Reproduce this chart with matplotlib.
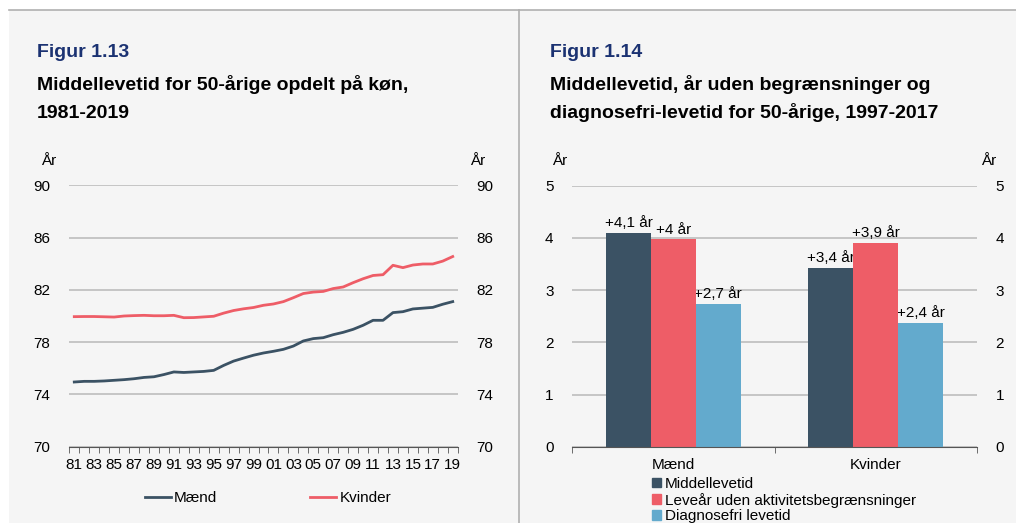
import matplotlib.pyplot as plt
from matplotlib.patches import Rectangle, Patch
from matplotlib.lines import Line2D

plt.rcParams['font.family'] = ['Liberation Sans', 'DejaVu Sans']

# --- data ---
years = list(range(1981, 2020))
maend = [74.95, 75.0, 75.0, 75.03, 75.08, 75.13, 75.2, 75.3, 75.35, 75.52,
         75.72, 75.68, 75.72, 75.76, 75.84, 76.22, 76.55, 76.78, 77.0, 77.17,
         77.3, 77.45, 77.7, 78.09, 78.27, 78.34, 78.57, 78.75, 78.98, 79.29,
         79.67, 79.67, 80.26, 80.33, 80.54, 80.6, 80.66, 80.9, 81.1]
kvinder = [79.95, 79.96, 79.96, 79.94, 79.92, 80.0, 80.03, 80.05, 80.02, 80.02,
           80.05, 79.87, 79.88, 79.93, 79.98, 80.22, 80.42, 80.55, 80.65, 80.82,
           80.92, 81.1, 81.4, 81.72, 81.83, 81.88, 82.1, 82.22, 82.55, 82.85,
           83.1, 83.16, 83.88, 83.7, 83.9, 83.98, 83.98, 84.2, 84.55]

groups = ['Mænd', 'Kvinder']
series = ['Middellevetid', 'Leveår uden aktivitetsbegrænsninger', 'Diagnosefri levetid']
middel = [4.1, 3.43]
uden_begr = [3.97, 3.91]
diagnosefri = [2.73, 2.37]
bar_labels = [['+4,1 år', '+3,4 år'], ['+4 år', '+3,9 år'], ['+2,7 år', '+2,4 år']]

navy = '#3b5264'
red = '#ee5d67'
blue = '#63aacd'
grid_c = '#bdbdbd'
title_blue = '#1b3272'

W, H = 1016, 523


def fx(x):
    return x / W


def fy(y):
    return 1 - y / H


fig = plt.figure(figsize=(W / 100, H / 100), dpi=100, facecolor='white')

# panel background and borders
fig.patches.append(Rectangle((fx(9), 0), 1 - fx(9), fy(10), transform=fig.transFigure,
                             facecolor='#f5f5f5', edgecolor='none', zorder=-10))
fig.lines.append(Line2D([fx(9), 1], [fy(10), fy(10)], transform=fig.transFigure,
                        color='#b0b0b0', lw=1.2, zorder=-5))
fig.lines.append(Line2D([fx(519), fx(519)], [0, fy(10)], transform=fig.transFigure,
                        color='#b0b0b0', lw=1.2, zorder=-5))

# titles
tfs = 14
fig.text(fx(37), fy(57), 'Figur 1.13', color=title_blue, fontsize=tfs, fontweight='bold')
fig.text(fx(37), fy(90), 'Middellevetid for 50-årige opdelt på køn,', fontsize=tfs, fontweight='bold')
fig.text(fx(37), fy(118), '1981-2019', fontsize=tfs, fontweight='bold')
fig.text(fx(550), fy(57), 'Figur 1.14', color=title_blue, fontsize=tfs, fontweight='bold')
fig.text(fx(550), fy(90), 'Middellevetid, år uden begrænsninger og', fontsize=tfs, fontweight='bold')
fig.text(fx(550), fy(118), 'diagnosefri-levetid for 50-årige, 1997-2017', fontsize=tfs, fontweight='bold')

fs = 11

# --- left chart ---
ax1 = fig.add_axes([fx(69.3), fy(446.7), fx(457.7 - 69.3), (446.7 - 185.3) / H])
ax1.set_facecolor('none')
x = list(range(len(years)))
ax1.plot(x, maend, color=navy, lw=2, label='Mænd', zorder=3)
ax1.plot(x, kvinder, color=red, lw=2, label='Kvinder', zorder=3)
ax1.set_xlim(-0.5, len(years) - 0.5)
ax1.set_ylim(70, 90)
ax1.set_yticks([70, 74, 78, 82, 86, 90])
ax1.yaxis.grid(True, color=grid_c, lw=1.2, zorder=0)
ax1.set_axisbelow(True)
ax1.set_xticks(x[::2])
ax1.set_xticklabels([str(y)[2:] for y in years[::2]])
ax1.set_xticks([i - 0.5 for i in range(len(years) + 1)], minor=True)
ax1.tick_params(axis='x', which='major', length=0, pad=8, labelsize=fs)
ax1.tick_params(axis='x', which='minor', length=4, direction='out', color='#555555')
ax1.tick_params(axis='y', left=False, right=False, labelright=True, pad=10, labelsize=fs)
for s in ['top', 'left', 'right']:
    ax1.spines[s].set_visible(False)
ax1.spines['bottom'].set_color('#555555')
ax1.legend(loc='center', bbox_to_anchor=(fx(268), fy(498)), bbox_transform=fig.transFigure,
           ncol=2, frameon=False, fontsize=fs, handlelength=1.7, handletextpad=0.2,
           columnspacing=6.1)
fig.text(fx(49), fy(161), 'År', ha='center', va='center', fontsize=fs)
fig.text(fx(478), fy(161), 'År', ha='center', va='center', fontsize=fs)

# --- right chart ---
ax2 = fig.add_axes([fx(572.3), fy(446.7), fx(976.7 - 572.3), (446.7 - 185.7) / H])
ax2.set_facecolor('none')
w = 0.222
gx = list(range(len(groups)))
for k, (vals, col, lab) in enumerate(zip([middel, uden_begr, diagnosefri], [navy, red, blue], series)):
    pos = [g + (k - 1) * w for g in gx]
    ax2.bar(pos, vals, width=w, color=col, label=lab, zorder=2)
    for p, v, t in zip(pos, vals, bar_labels[k]):
        ax2.annotate(t, (p, v), xytext=(0, 2), textcoords='offset points',
                     ha='center', va='bottom', fontsize=fs, zorder=1.5)
ax2.set_xlim(-0.5, 1.5)
ax2.set_ylim(0, 5)
ax2.set_yticks(range(6))
ax2.yaxis.grid(True, color=grid_c, lw=1.2, zorder=0)
ax2.set_axisbelow(True)
ax2.set_xticks(gx)
ax2.set_xticklabels(groups)
ax2.set_xticks([-0.5, 0.5, 1.5], minor=True)
ax2.tick_params(axis='x', which='major', length=0, pad=8, labelsize=fs)
ax2.tick_params(axis='x', which='minor', length=4, direction='out', color='#555555')
ax2.tick_params(axis='y', left=False, right=False, labelright=True, pad=10, labelsize=fs)
for s in ['top', 'left', 'right']:
    ax2.spines[s].set_visible(False)
ax2.spines['bottom'].set_color('#555555')
handles = [Patch(color=c) for c in [navy, red, blue]]
ax2.legend(handles, series, loc='upper left', bbox_to_anchor=(fx(652), fy(477)),
           bbox_transform=fig.transFigure, frameon=False, fontsize=fs,
           handlelength=0.6, handleheight=0.6, handletextpad=0.25, labelspacing=0.1,
           borderpad=0, borderaxespad=0)
fig.text(fx(560), fy(161), 'År', ha='center', va='center', fontsize=fs)
fig.text(fx(989), fy(161), 'År', ha='center', va='center', fontsize=fs)

fig.savefig('out.png', dpi=100, facecolor='white')
